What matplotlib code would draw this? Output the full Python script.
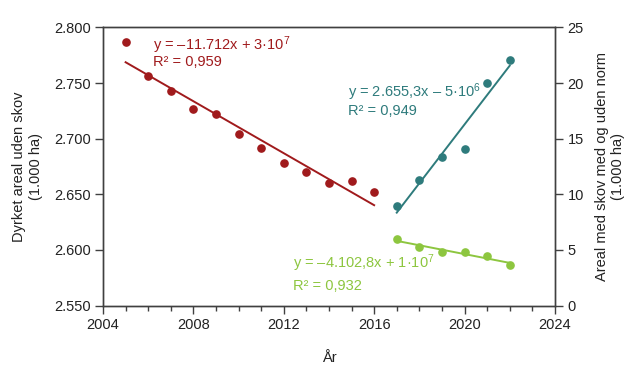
import numpy as np
import matplotlib
matplotlib.use("Agg")
import matplotlib.pyplot as plt
from matplotlib.ticker import MultipleLocator, FuncFormatter

plt.rcParams["font.family"] = ["Liberation Sans", "DejaVu Sans"]
plt.rcParams["mathtext.fontset"] = "custom"
plt.rcParams["mathtext.rm"] = "Liberation Sans"
plt.rcParams["mathtext.it"] = "Liberation Sans"
plt.rcParams["mathtext.default"] = "rm"

# Data
years_dyrket = [2005, 2006, 2007, 2008, 2009, 2010, 2011, 2012, 2013, 2014, 2015, 2016]
dyrket = [2.787, 2.756, 2.743, 2.727, 2.722, 2.704, 2.692, 2.678, 2.670, 2.660, 2.662, 2.652]

years_skov = [2017, 2018, 2019, 2020, 2021, 2022]
uden_norm = [8.95, 11.26, 13.36, 14.1, 19.97, 22.07]
med_norm = [5.95, 5.26, 4.8, 4.8, 4.44, 3.67]

red = "#A01A1C"
teal = "#2E7B7C"
green = "#8DC63F"
axis_col = "#404040"


def trend(x, y):
    x = np.asarray(x, dtype=float)
    k, m = np.polyfit(x, y, 1)
    return x, k * x + m


fig = plt.figure(figsize=(6.32, 3.65), dpi=100)
ax = fig.add_axes([0.163, 0.163, 0.715, 0.762])
ax2 = ax.twinx()

ax.plot(years_dyrket, dyrket, "o", color=red, ms=5.2, zorder=3)
tx, ty = trend(years_dyrket, dyrket)
ax.plot(tx, ty, color=red, lw=1.4)

ax2.plot(years_skov, uden_norm, "o", color=teal, ms=5.2, zorder=3)
tx, ty = trend(years_skov, uden_norm)
ax2.plot(tx, ty, color=teal, lw=1.4)

ax2.plot(years_skov, med_norm, "o", color=green, ms=5.2, zorder=3)
tx, ty = trend(years_skov, med_norm)
ax2.plot(tx, ty, color=green, lw=1.4)

ax.set_xlim(2004, 2024)
ax.set_ylim(2.55, 2.80)
ax2.set_ylim(0, 25)

ax.xaxis.set_major_locator(MultipleLocator(4))
ax.xaxis.set_minor_locator(MultipleLocator(1))
ax.yaxis.set_major_locator(MultipleLocator(0.05))
ax2.yaxis.set_major_locator(MultipleLocator(5))
ax.yaxis.set_major_formatter(FuncFormatter(lambda v, p: f"{v:.3f}"))

for a in (ax, ax2):
    for s in a.spines.values():
        s.set_color(axis_col)
        s.set_linewidth(1.0)
    a.tick_params(colors=axis_col, labelcolor="#222222", labelsize=10.5,
                  length=5.5, width=1.0, direction="out")
ax.tick_params(axis="x", which="minor", length=3.5, width=1.0, colors=axis_col)

ax.set_xlabel("År", fontsize=10.5, color="#222222", labelpad=14)
ax.set_ylabel("Dyrket areal uden skov\n(1.000 ha)", fontsize=10.5,
              color="#222222", labelpad=8)
ax2.set_ylabel("Areal med skov med og uden norm\n(1.000 ha)", fontsize=10.5,
               color="#222222", labelpad=8, rotation=90)

# regression labels, one line each
ax.text(2006.22, 2.7843, "y = \u201311.712x + 3\u00b710$^{7}$",
        color=red, fontsize=10.5, va="center")
ax.text(2006.22, 2.769, "R\u00b2 = 0,959", color=red, fontsize=10.5, va="center")
ax2.text(2014.85, 19.2, "y = 2.655,3x \u2013 5\u00b710$^{6}$",
         color=teal, fontsize=10.5, va="center")
ax2.text(2014.85, 17.49, "R\u00b2 = 0,949", color=teal, fontsize=10.5, va="center")
ax2.text(2012.42, 3.82, "y = \u20134.102,8x + 1\u00b710$^{7}$",
         color=green, fontsize=10.5, va="center")
ax2.text(2012.42, 1.75, "R\u00b2 = 0,932", color=green, fontsize=10.5, va="center")

fig.savefig("out.png", dpi=100)
